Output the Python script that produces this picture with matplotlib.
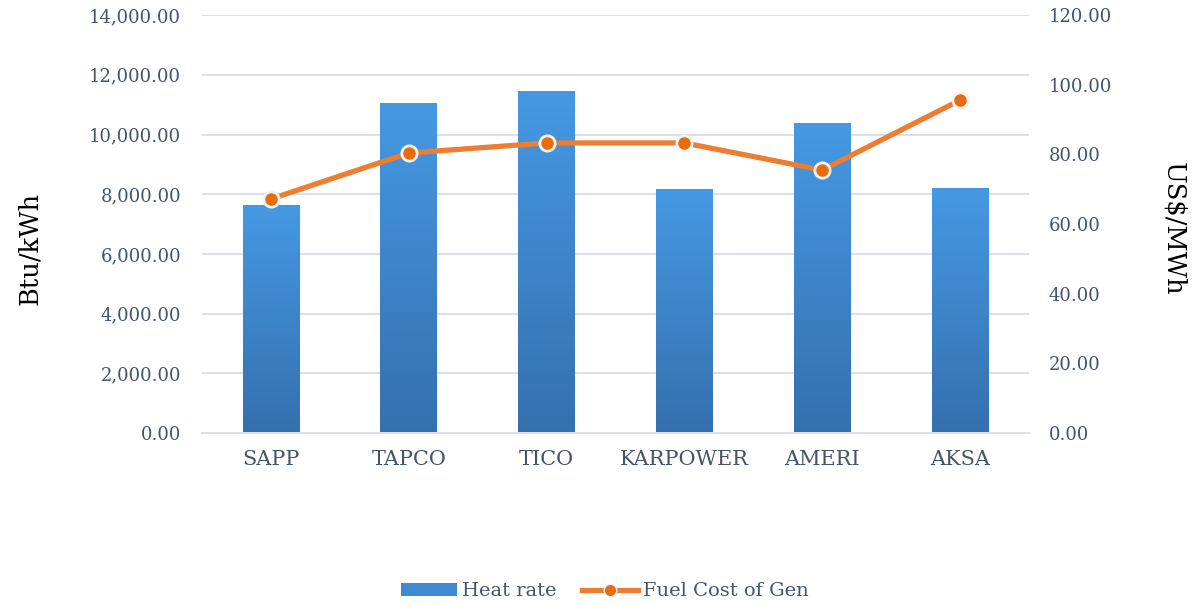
import numpy as np
import matplotlib
matplotlib.use("Agg")
from matplotlib import pyplot as plt
from matplotlib.ticker import FuncFormatter
from matplotlib.lines import Line2D
from matplotlib.patches import Patch

plants = ["SAPP", "TAPCO", "TICO", "KARPOWER", "AMERI", "AKSA"]
heat_rate = [7650, 11050, 11450, 8180, 10380, 8210]
fuel_cost = [67.2, 80.4, 83.3, 83.3, 75.5, 95.6]

plt.rcParams["font.family"] = ["DejaVu Serif"]
txt = "#44546A"
grid = "#DCE0E6"

fig = plt.figure(figsize=(11.93, 6.06), dpi=100)
ax = fig.add_axes([0.1693, 0.2855, 0.8625 - 0.1693, 0.975 - 0.2855])
ax2 = ax.twinx()

x = np.arange(len(plants))
bars = ax.bar(x, heat_rate, width=0.41, color="#4396E0", zorder=2)

# vertical gradient on the bars
grad = np.linspace(0, 1, 256).reshape(-1, 1)
cmap = matplotlib.colors.LinearSegmentedColormap.from_list("g", ["#3570AE", "#4599E3"])
for b in bars:
    bx, by = b.get_x(), b.get_y()
    w, h = b.get_width(), b.get_height()
    im = ax.imshow(grad, cmap=cmap, aspect="auto", origin="lower",
                   extent=[bx, bx + w, by, by + h], zorder=2.5)
    im.set_clip_path(b)

ax.set_xlim(-0.5, len(plants) - 0.5)
ax.set_ylim(0, 14000)
ax.set_yticks(np.arange(0, 14001, 2000))
ax.yaxis.set_major_formatter(FuncFormatter(lambda v, p: f"{v:,.2f}"))
ax.set_xticks(x)
ax.set_xticklabels(plants)
ax.grid(axis="y", color=grid, linewidth=1.4, zorder=0)
ax.set_axisbelow(True)

ax2.plot(x, fuel_cost, color="#ED7D31", linewidth=3.8, marker="o",
         markersize=11, markerfacecolor="#E86B0C", markeredgecolor="#F2F2F2",
         markeredgewidth=2, zorder=5)
ax2.set_ylim(0, 120)
ax2.set_yticks(np.arange(0, 121, 20))
ax2.yaxis.set_major_formatter(FuncFormatter(lambda v, p: f"{v:.2f}"))

for a in (ax, ax2):
    for s in ("top", "left", "right"):
        a.spines[s].set_visible(False)
    a.spines["bottom"].set_color(grid)
    a.spines["bottom"].set_linewidth(1.4)
    a.tick_params(length=0, labelsize=13, labelcolor=txt)
ax.tick_params(axis="y", pad=15)
ax.tick_params(axis="x", pad=12, labelsize=15)
ax2.tick_params(axis="y", pad=14)

fig.text(0.025, 0.59, "Btu/kWh", rotation=90, fontsize=18.5, color="black",
         ha="center", va="center")
fig.text(0.984, 0.622, "US$/MWh", rotation=270, fontsize=18.5, color="black",
         ha="center", va="center")

handles = [Patch(facecolor="#3F8AD3", edgecolor="none"),
           Line2D([0], [0], color="#ED7D31", linewidth=3.8, marker="o",
                  markersize=9, markerfacecolor="#E86B0C", markeredgecolor="#F2F2F2")]
fig.legend(handles, ["Heat rate", "Fuel Cost of Gen"], loc="center",
           bbox_to_anchor=(0.507, 0.024), ncol=2, frameon=False, fontsize=14,
           labelcolor=txt, handlelength=2.9, handletextpad=0.25, columnspacing=1.3)

fig.savefig("out.png", dpi=100)
